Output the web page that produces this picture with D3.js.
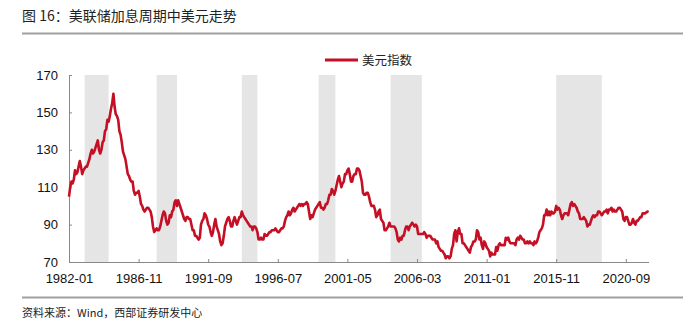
<!DOCTYPE html>
<html><head><meta charset="utf-8">
<script src="https://cdn.jsdelivr.net/npm/d3@7/dist/d3.min.js"></script>
<style>
html,body{margin:0;padding:0;background:#fff;}
svg{display:block;}
</style></head>
<body>
<svg id="c" width="692" height="328"></svg>
<script>
// ---- data ----
const startMonth = "1982-01";
// US Dollar Index, monthly, 1982-01 .. 2022-04
const dxy = [
 105,110,113,112,114,119,117,118,121,124,121,117, // 1982
 119,120,121,121,123,125,128,130,128,129,131,133, // 1983
 135,130,128,130,134,135,140,141,146,145,148,152, // 1984
 155,160,153,149,148,146,140,138,134,129,127,125, // 1985
 121,117,116,114,113,113,108,106,107,107,108,105, // 1986
 101,100,98,97,98,99,99,98,97,94,89,86,           // 1987
 87,88,87,87,89,92,95,97,96,92,90,91,             // 1988
 95,94,97,98,102,103,100,103,101,99,97,95,        // 1989
 93,92,94,94,93,93,90,87,87,84,84,83,             // 1990
 82,83,90,92,93,96,95,93,90,89,86,84,             // 1991
 86,90,93,89,87,85,81,79,80,84,89,91,             // 1992
 93,94,92,89,89,92,94,92,90,92,94,94,             // 1993
 97,95,94,93,92,91,90,89,89,87,89,89,             // 1994
 88,86,82,82,83,82,82,85,84,84,85,86,             // 1995
 86,87,87,87,88,87,86,86,87,88,88,89,             // 1996
 92,94,95,97,95,96,98,99,97,98,99,100,            // 1997
 101,100,101,100,101,101,102,101,97,93,95,94,     // 1998
 96,98,99,100,101,102,99,99,98,99,101,101,        // 1999
 103,106,106,109,108,106,108,111,114,116,113,110, // 2000
 112,113,117,117,119,120,117,113,113,116,117,117, // 2001
 120,120,119,116,113,107,106,106,107,107,105,102, // 2002
 100,100,100,98,94,95,97,98,93,92,91,87,          // 2003
 87,88,89,91,89,89,89,89,88,86,82,81,             // 2004
 83,82,84,84,87,89,89,87,89,90,91,90,             // 2005
 89,90,89,85,85,85,85,85,86,85,83,84,             // 2006
 84,84,83,82,82,82,80,81,78,77,76,76,             // 2007
 75,74,72,73,73,72,73,77,79,85,87,81,             // 2008
 86,88,85,85,80,80,79,78,77,76,75,78,             // 2009
 79,81,81,82,87,86,82,83,79,77,81,80,             // 2010
 78,77,76,73,75,74,74,74,78,76,79,80,             // 2011
 79,79,79,79,83,82,83,81,80,80,80,80,             // 2012
 79,82,83,82,84,83,82,82,80,80,81,80,             // 2013
 81,80,80,79,81,80,81,83,86,87,88,90,             // 2014
 95,95,98,95,97,95,97,96,96,97,100,98,            // 2015
 99,98,95,93,95,96,96,96,95,98,101,102,           // 2016
 100,101,100,99,97,96,93,93,93,94,93,92,          // 2017
 89,90,90,92,94,95,94,95,95,97,97,96,             // 2018
 95,96,97,97,98,96,98,98,99,97,98,97,             // 2019
 97,98,99,99,98,97,93,92,94,94,92,90,             // 2020
 90,91,93,91,90,92,92,93,94,94,96,96,             // 2021
 96,96.5,97,96.7                                  // 2022
];
const xTickLabels = ["1982-01","1986-11","1991-09","1996-07","2001-05","2006-03","2011-01","2015-11","2020-09"];
const yTicks = [70,90,110,130,150,170];
const hikeStart = ["1983-02","1988-02","1994-01","1999-05","2004-05","2015-11"];
const hikeEnd   = ["1984-10","1989-07","1995-02","2000-07","2006-07","2019-01"];
const seriesName = "美元指数";
const titleText = "图 16：美联储加息周期中美元走势";
const sourceText = "资料来源：Wind，西部证券研发中心";

// ---- helpers ----
function mIdx(s){ const [y,m]=s.split("-").map(Number); const [y0,m0]=startMonth.split("-").map(Number); return (y-y0)*12+(m-m0); }

const svg = d3.select("#c");
const cjk = "'Noto Sans CJK SC','Noto Sans',sans-serif";
const lat = "'Liberation Sans',Arial,sans-serif";

const x = d3.scaleLinear().domain([0, dxy.length-1]).range([69, 648.6]);
const y = d3.scaleLinear().domain([70,170]).range([262,75]);

// title
svg.append("text").attr("x",22).attr("y",21).attr("font-family",cjk).attr("font-size",14)
  .attr("fill","#222").text(titleText);
svg.append("line").attr("x1",22).attr("x2",683).attr("y1",33.5).attr("y2",33.5)
  .attr("stroke","#a0a0a0").attr("stroke-width",2);

// bands
svg.append("g").selectAll("rect").data(hikeStart.map((s,i)=>[mIdx(s),mIdx(hikeEnd[i])]))
  .join("rect")
  .attr("x",d=>x(d[0])).attr("width",d=>x(d[1])-x(d[0]))
  .attr("y",y(170)).attr("height",y(70)-y(170))
  .attr("fill","#e5e5e5");

// axes
const yAxis = d3.axisLeft(y).tickValues(yTicks).tickSizeInner(-3).tickSizeOuter(0).tickPadding(11);
const gy = svg.append("g").attr("transform","translate(69,0)").call(yAxis);
const xAxis = d3.axisBottom(x).tickValues(xTickLabels.map(mIdx))
  .tickFormat((d,i)=>xTickLabels[i]).tickSizeInner(-3).tickSizeOuter(0).tickPadding(11.5);
const gx = svg.append("g").attr("transform","translate(0,262)").call(xAxis);
[gx,gy].forEach(g=>{
  g.select(".domain").attr("stroke","#888");
  g.selectAll(".tick line").attr("stroke","#888");
  g.selectAll("text").attr("font-family",lat).attr("font-size",13).attr("fill","#111");
});

// line
const line = d3.line().x((d,i)=>x(i)).y(d=>y(d));
svg.append("path").datum(dxy).attr("d",line).attr("fill","none")
  .attr("stroke","#c40f24").attr("stroke-width",2.6).attr("stroke-linejoin","round");

// legend
svg.append("line").attr("x1",325).attr("x2",358).attr("y1",60).attr("y2",60)
  .attr("stroke","#c40f24").attr("stroke-width",3.2);
svg.append("text").attr("x",362).attr("y",64.5).attr("font-family",cjk).attr("font-size",12.5)
  .attr("fill","#222").text(seriesName);

// footer
svg.append("line").attr("x1",22).attr("x2",683).attr("y1",297.5).attr("y2",297.5)
  .attr("stroke","#a0a0a0").attr("stroke-width",2);
svg.append("text").attr("x",22).attr("y",316.5).attr("font-family",cjk).attr("font-size",11)
  .attr("fill","#222").text(sourceText);
</script>
</body></html>
